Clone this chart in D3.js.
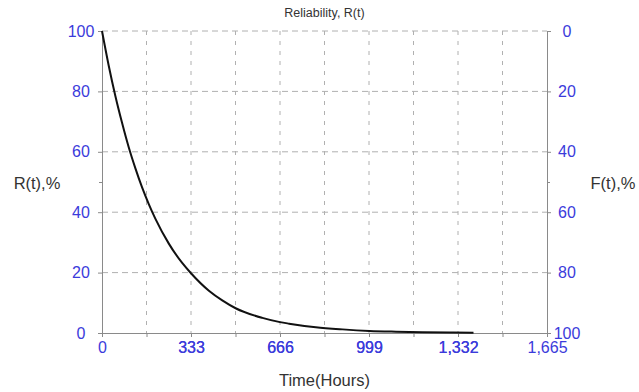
<!DOCTYPE html>
<html>
<head>
<meta charset="utf-8">
<script src="https://cdn.jsdelivr.net/npm/d3@7"></script>
<style>
  body { margin: 0; background: #fff; }
  svg { font-family: "Liberation Sans", Arial, sans-serif; }
</style>
</head>
<body>
<svg width="639" height="392"></svg>
<script>
// values
var hours = [0, 25, 50, 75, 100, 125, 150, 175, 200, 250, 300, 333, 400, 450, 500, 600, 666, 700, 800, 900, 1000, 1100, 1200, 1300, 1390];
var reliability = [100, 88.6, 78.5, 69.6, 61.5, 54.5, 48.2, 42.7, 37.8, 29.6, 23.2, 19.8, 14.0, 10.8, 8.2, 5.0, 3.6, 3.1, 1.9, 1.2, 0.7, 0.45, 0.28, 0.17, 0.1];
var timeTicks = [0, 333, 666, 999, 1332, 1665];
var rTicks = [0, 20, 40, 60, 80, 100];
var fTicks = [0, 20, 40, 60, 80, 100];

var svg = d3.select("svg");
var margin = {left: 102, right: 92, top: 31, bottom: 59};
var width = 639 - margin.left - margin.right,
    height = 392 - margin.top - margin.bottom;
var blue = "#3b3bdb", grey = "#8a8a8a", gridGrey = "#b0b0b0";

var x = d3.scaleLinear().domain([0, 1665]).range([0, width]);
var y = d3.scaleLinear().domain([0, 100]).range([height, 0]);
var yF = d3.scaleLinear().domain([0, 100]).range([0, height]);

var g = svg.append("g").attr("transform", "translate(" + margin.left + "," + margin.top + ")");

// grid
var vLines = d3.range(1, 10).map(function(i) { return 1665 * i / 10; });
g.append("g").selectAll("line")
  .data(vLines).enter().append("line")
    .attr("x1", function(d) { return x(d); }).attr("x2", function(d) { return x(d); })
    .attr("y1", 0).attr("y2", height)
    .attr("stroke", gridGrey).attr("stroke-dasharray", "4,6");
g.append("g").selectAll("line")
  .data([20, 40, 60, 80, 100]).enter().append("line")
    .attr("x1", 0).attr("x2", width)
    .attr("y1", function(d) { return y(d); }).attr("y2", function(d) { return y(d); })
    .attr("stroke", gridGrey).attr("stroke-dasharray", "6,4");

function styleAxis(sel) {
  sel.select(".domain").attr("stroke", grey);
  sel.selectAll(".tick line").attr("stroke", grey);
  sel.selectAll(".tick text").attr("fill", blue).attr("font-size", 16);
}

// minor tick at the middle
g.append("g").call(d3.axisLeft(y).tickValues([50]).tickSize(3).tickFormat(""))
  .call(styleAxis);
g.append("g").attr("transform", "translate(" + width + ",0)")
  .call(d3.axisRight(yF).tickValues([50]).tickSize(3).tickFormat(""))
  .call(styleAxis);

// left axis
g.append("g")
  .call(d3.axisLeft(y).tickValues(rTicks).tickSize(4).tickSizeOuter(0).tickPadding(8))
  .call(styleAxis)
  .call(function(a) { a.selectAll(".tick text").attr("text-anchor", "middle").attr("x", -21); });

// right axis
g.append("g").attr("transform", "translate(" + width + ",0)")
  .call(d3.axisRight(yF).tickValues(fTicks).tickSize(4).tickSizeOuter(0))
  .call(styleAxis)
  .call(function(a) { a.selectAll(".tick text").attr("text-anchor", "middle").attr("x", 20); });

// bottom axis
g.append("g").attr("transform", "translate(0," + height + ")")
  .call(d3.axisBottom(x).tickValues(vLines.concat(timeTicks)).tickSize(4).tickSizeOuter(0)
    .tickFormat(function(d) { return timeTicks.indexOf(d) >= 0 ? d3.format(",")(d) : ""; }))
  .call(styleAxis)
  .call(function(a) { a.selectAll(".tick text").attr("y", 9); });

// curve
var line = d3.line()
  .x(function(d, i) { return x(hours[i]); })
  .y(function(d) { return y(d); })
  .curve(d3.curveMonotoneX);
g.append("path")
  .datum(reliability)
  .attr("d", line)
  .attr("fill", "none")
  .attr("stroke", "#111")
  .attr("stroke-width", 2);

// labels
svg.append("text").attr("x", 324.5).attr("y", 17).attr("text-anchor", "middle")
  .attr("font-size", 12.5).attr("fill", "#333").text("Reliability, R(t)");
svg.append("text").attr("x", 37).attr("y", 189).attr("text-anchor", "middle")
  .attr("font-size", 16.5).attr("fill", "#333").text("R(t),%");
svg.append("text").attr("x", 613).attr("y", 189).attr("text-anchor", "middle")
  .attr("font-size", 16.5).attr("fill", "#333").text("F(t),%");
svg.append("text").attr("x", 324.5).attr("y", 386).attr("text-anchor", "middle")
  .attr("font-size", 16.5).attr("fill", "#333").text("Time(Hours)");
</script>
</body>
</html>
